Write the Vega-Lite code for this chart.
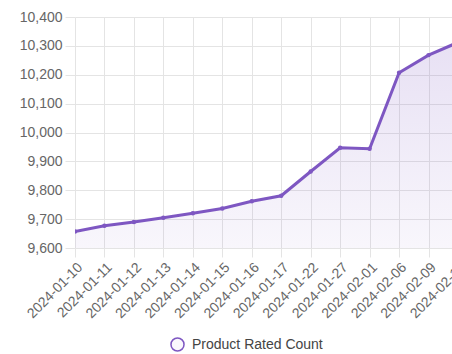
{
  "$schema": "https://vega.github.io/schema/vega-lite/v6.json",
  "width": 377,
  "height": 231,
  "autosize": {"type": "none"},
  "padding": {"left": 75, "top": 17, "right": 0, "bottom": 106},
  "background": "white",
  "config": {
    "view": {"stroke": null},
    "font": "Liberation Sans",
    "axis": {
      "gridColor": "#e4e4e4",
      "tickColor": "#e4e4e4",
      "domain": false,
      "labelColor": "#666666",
      "labelFontSize": 14,
      "labelFont": "Liberation Sans"
    }
  },
  "data": {
    "values": [
      {"date": "2024-01-10", "count": 9657},
      {"date": "2024-01-11", "count": 9677},
      {"date": "2024-01-12", "count": 9690},
      {"date": "2024-01-13", "count": 9705},
      {"date": "2024-01-14", "count": 9720},
      {"date": "2024-01-15", "count": 9737},
      {"date": "2024-01-16", "count": 9762},
      {"date": "2024-01-17", "count": 9781},
      {"date": "2024-01-22", "count": 9865},
      {"date": "2024-01-27", "count": 9947},
      {"date": "2024-02-01", "count": 9944},
      {"date": "2024-02-06", "count": 10207},
      {"date": "2024-02-09", "count": 10268},
      {"date": "2024-02-12", "count": 10312}
    ]
  },
  "encoding": {
    "x": {
      "field": "date",
      "type": "ordinal",
      "sort": null,
      "scale": {"type": "point", "padding": 0, "range": [0, 383]},
      "axis": {
        "title": null,
        "labelAngle": -45,
        "labelAlign": "right",
        "labelBaseline": "top",
        "tickSize": 9,
        "labelPadding": 3,
        "grid": true
      }
    },
    "y": {
      "field": "count",
      "type": "quantitative",
      "scale": {"domain": [9600, 10400], "nice": false, "zero": false},
      "axis": {
        "title": null,
        "values": [9600, 9700, 9800, 9900, 10000, 10100, 10200, 10300, 10400],
        "format": ",.0f",
        "tickSize": 10,
        "labelPadding": 3,
        "grid": true
      }
    }
  },
  "layer": [
    {
      "mark": {
        "type": "area",
        "clip": true,
        "opacity": 1,
        "fill": {
          "gradient": "linear",
          "x1": 0, "y1": 0, "x2": 0, "y2": 1,
          "stops": [
            {"offset": 0, "color": "rgba(126,87,194,0.18)"},
            {"offset": 1, "color": "rgba(126,87,194,0.05)"}
          ]
        }
      },
      "encoding": {
        "y2": {"datum": 9600}
      }
    },
    {
      "mark": {"type": "line", "strokeWidth": 3, "clip": true},
      "encoding": {
        "color": {
          "datum": "Product Rated Count",
          "type": "nominal",
          "scale": {"range": ["#7e57c2"]},
          "legend": {
            "title": null,
            "orient": "none",
            "legendX": 95,
            "legendY": 320,
            "symbolType": "circle",
            "symbolSize": 170,
            "symbolFillColor": "#faf8fd",
            "symbolStrokeColor": "#7e57c2",
            "symbolStrokeWidth": 1.5,
            "labelFontSize": 14,
            "labelOffset": 7,
            "labelColor": "#444444",
            "labelFont": "Liberation Sans"
          }
        }
      }
    },
    {
      "mark": {"type": "point", "filled": true, "size": 20, "color": "#7e57c2", "opacity": 1, "clip": true}
    }
  ]
}
